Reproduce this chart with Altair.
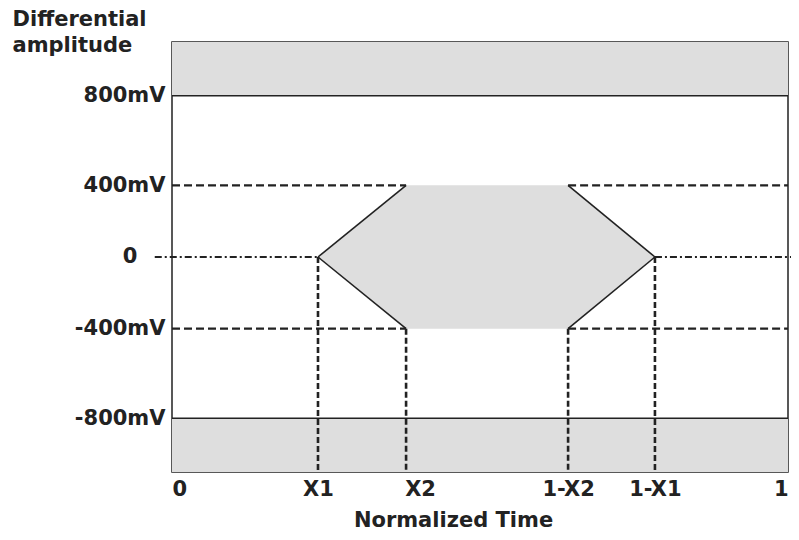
import altair as alt
import pandas as pd

# ---- values ----
x_names = ["0", "X1", "X2", "1-X2", "1-X1", "1"]
x_pos = [0.0, 0.237, 0.380, 0.643, 0.784, 1.0]
X1, X2, NX2, NX1 = x_pos[1], x_pos[2], x_pos[3], x_pos[4]

# schematic vertical positions of levels and their labels
level_pos = [900, 400, 0, -400, -900]
level_labels = ["800mV", "400mV", "0", "-400mV", "-800mV"]
y_min, y_max = -1200, 1200
eye_hi, eye_lo = 400, -400
mask_hi, mask_lo = 900, -900

FONT = "DejaVu Sans"
FS = 21
DARK = "#222222"
FILL = "#dedede"

xs = alt.Scale(domain=[0, 1], nice=False, zero=False)
ys = alt.Scale(domain=[y_min, y_max], nice=False, zero=False)

label_expr_x = "[" + ",".join(f"'{n}'" for n in x_names) + "][indexof([" + ",".join(str(v) for v in x_pos) + "], datum.value)]"
# the "0" level label is drawn further left as its own text mark
label_expr_y = "[" + ",".join(("''" if n == "0" else f"'{n}'") for n in level_labels) + "][indexof([" + ",".join(str(v) for v in level_pos) + "], datum.value)]"

ax_x = alt.Axis(
    values=x_pos, labelExpr=label_expr_x, title="Normalized Time",
    grid=False, domain=False, ticks=False, labelFont=FONT, labelFontSize=FS,
    labelFontWeight="bold", labelColor=DARK, labelPadding=6, labelFlush=True,
    labelOffset={"condition": {"test": f"datum.value == {X2}", "value": 14}, "value": 0},
    titleFont=FONT, titleFontSize=FS, titleFontWeight="bold", titleColor=DARK,
    titleX=281, titleY=48, titleBaseline="middle", titleAlign="center")
ax_y = alt.Axis(
    values=level_pos, labelExpr=label_expr_y,
    title=["Differential", "amplitude"], titleAngle=0, titleAlign="left",
    titleBaseline="top", titleX=-160, titleY=-34, titleLineHeight=26,
    grid=False, domain=False, ticks=False, labelFont=FONT, labelFontSize=FS,
    labelFontWeight="bold", labelColor=DARK, labelPadding=7,
    titleFont=FONT, titleFontSize=FS, titleFontWeight="bold", titleColor=DARK)

# grey bands
bands = pd.DataFrame({"x": [0, 0], "x2": [1, 1], "y": [mask_hi, y_min], "y2": [y_max, mask_lo]})
band_layer = alt.Chart(bands).mark_rect(color=FILL).encode(
    x=alt.X("x:Q", scale=xs, axis=ax_x), x2="x2:Q",
    y=alt.Y("y:Q", scale=ys, axis=ax_y), y2="y2:Q",
)

band_lines = pd.DataFrame({"x": [0, 0], "x2": [1, 1], "y": [mask_hi, mask_lo]})
band_rule = alt.Chart(band_lines).mark_rule(color=DARK, strokeWidth=1.5).encode(
    x=alt.X("x:Q", scale=xs, axis=ax_x), x2="x2:Q", y=alt.Y("y:Q", scale=ys, axis=ax_y))

# eye (hexagon) fill
eye = pd.DataFrame({"x": [X1, X2, NX2, NX1], "hi": [0, eye_hi, eye_hi, 0], "lo": [0, eye_lo, eye_lo, 0]})
eye_layer = alt.Chart(eye).mark_area(color=FILL, opacity=1).encode(
    x=alt.X("x:Q", scale=xs, axis=ax_x), y=alt.Y("hi:Q", scale=ys, axis=ax_y), y2="lo:Q")

# slanted edges
edges = pd.DataFrame({
    "x": [X1, NX2, X1, NX2], "x2": [X2, NX1, X2, NX1],
    "y": [0, eye_hi, 0, eye_lo], "y2": [eye_hi, 0, eye_lo, 0]})
edge_layer = alt.Chart(edges).mark_rule(color=DARK, strokeWidth=1.6).encode(
    x=alt.X("x:Q", scale=xs, axis=ax_x), x2="x2:Q",
    y=alt.Y("y:Q", scale=ys, axis=ax_y), y2="y2:Q")

# horizontal dashed lines at +/-400mV
hdash = pd.DataFrame({"x": [0, NX2, 0, NX2], "x2": [X2, 1, X2, 1],
                      "y": [eye_hi, eye_hi, eye_lo, eye_lo]})
hdash_layer = alt.Chart(hdash).mark_rule(color=DARK, strokeWidth=2.2, strokeDash=[8, 4]).encode(
    x=alt.X("x:Q", scale=xs, axis=ax_x), x2="x2:Q", y=alt.Y("y:Q", scale=ys, axis=ax_y))

# zero dash-dot line
zline = pd.DataFrame({"x": [-0.028, NX1], "x2": [X1, 1.015], "y": [0, 0]})
z_layer = alt.Chart(zline).mark_rule(color=DARK, strokeWidth=2.2, strokeDash=[7, 3, 2, 3]).encode(
    x=alt.X("x:Q", scale=xs, axis=ax_x), x2="x2:Q", y=alt.Y("y:Q", scale=ys, axis=ax_y))

# vertical dashed lines
vdash = pd.DataFrame({"x": [X1, X2, NX2, NX1], "y": [0, eye_lo, eye_lo, 0],
                      "y2": [y_min] * 4})
v_layer = alt.Chart(vdash).mark_rule(color=DARK, strokeWidth=2.6, strokeDash=[6, 3]).encode(
    x=alt.X("x:Q", scale=xs, axis=ax_x), y=alt.Y("y:Q", scale=ys, axis=ax_y), y2="y2:Q")

# "0" level label, set further left than the others
zero_lab = pd.DataFrame({"y": [level_pos[2]], "t": [level_labels[2]]})
zero_layer = alt.Chart(zero_lab).mark_text(
    font=FONT, fontSize=FS, fontWeight="bold", color=DARK, align="center", baseline="middle"
).encode(x=alt.value(-42), y=alt.Y("y:Q", scale=ys, axis=ax_y), text="t:N")

chart = alt.layer(band_layer, eye_layer, band_rule, edge_layer, hdash_layer, z_layer, v_layer, zero_layer).properties(
    width=616, height=430,
    autosize=alt.AutoSizeParams(type="none"),
    padding={"left": 164, "top": 34, "right": 3, "bottom": 60},
    background="white",
).configure_view(stroke=DARK, strokeWidth=1.5)

chart.save("out.html", embed_options={"renderer": "svg", "actions": False})
